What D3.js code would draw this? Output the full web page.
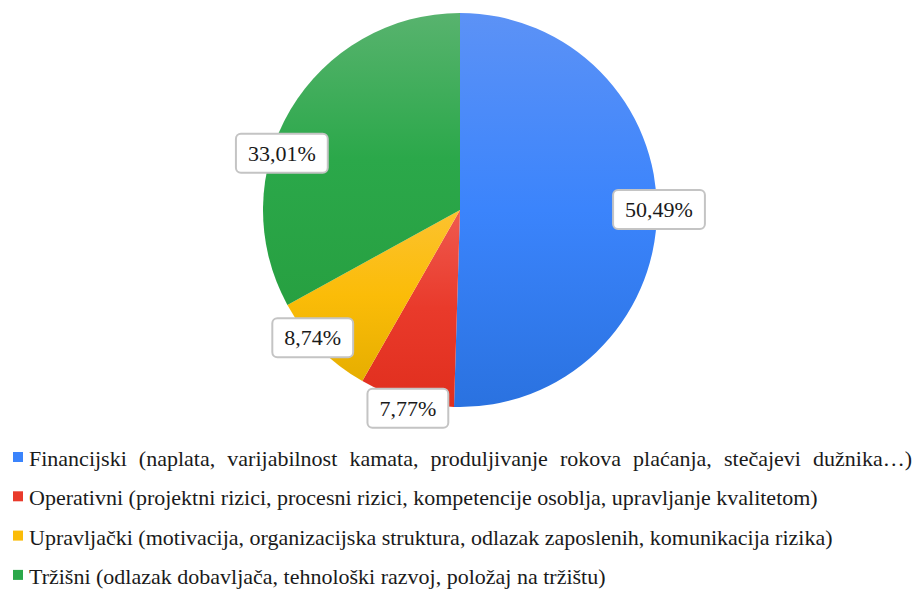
<!DOCTYPE html>
<html>
<head>
<meta charset="utf-8">
<script src="https://cdn.jsdelivr.net/npm/d3@7"></script>
<style>
  body { margin: 0; }
  #pie_chart text { font-family: "Liberation Serif", "Tinos", "Times New Roman", serif !important; }
</style>
</head>
<body>
<svg id="pie_chart" width="916" height="594" font-family="Liberation Serif"></svg>
<script>
const categories = [
    "Financijski (naplata, varijabilnost kamata, produljivanje rokova plaćanja, stečajevi dužnika…)",
    "Operativni (projektni rizici, procesni rizici, kompetencije osoblja, upravljanje kvalitetom)",
    "Upravljački (motivacija, organizacijska struktura, odlazak zaposlenih, komunikacija rizika)",
    "Tržišni (odlazak dobavljača, tehnološki razvoj, položaj na tržištu)"
];
const shares = [50.49, 7.77, 8.74, 33.01];
const shareLabels = ["50,49%", "7,77%", "8,74%", "33,01%"];
const colorsTop = ["#5c92f6", "#ef5a4f", "#fcc22f", "#58b36e"];
const colorsMid = ["#3b84fc", "#e93a2b", "#fbbc08", "#2ba84a"];
const colorsBottom = ["#2a72e0", "#e02e1d", "#e6ae00", "#27a041"];
// best-fit placement of the value boxes: angle nudge (deg) and distance from centre
const labelShift = [-1, -1, 3.6, -12.9];
const labelDist = [199, 205, 195, 187];

const cx = 460, cy = 210, radius = 197;
const serif = '"Liberation Serif", "Tinos", "Times New Roman", serif';

const svg = d3.select("#pie_chart");

const defs = svg.append("defs");
shares.forEach((d, i) => {
    const g = defs.append("linearGradient")
        .attr("id", "grad" + i)
        .attr("x1", 0).attr("y1", 0).attr("x2", 0).attr("y2", 1);
    g.append("stop").attr("offset", "0%").attr("stop-color", colorsTop[i]);
    g.append("stop").attr("offset", "50%").attr("stop-color", colorsMid[i]);
    g.append("stop").attr("offset", "100%").attr("stop-color", colorsBottom[i]);
});

const pie = d3.pie().sort(null).value(d => d);
const arcs = pie(shares);
const arc = d3.arc().innerRadius(0).outerRadius(radius);

const g = svg.append("g").attr("transform", `translate(${cx},${cy})`);

g.selectAll("path.slice")
    .data(arcs)
    .join("path")
    .attr("class", "slice")
    .attr("fill", (d, i) => `url(#grad${i})`)
    .attr("d", arc);

// value boxes
const labels = g.selectAll("g.lbl")
    .data(arcs)
    .join("g")
    .attr("class", "lbl")
    .attr("transform", (d, i) => {
        const a = (d.startAngle + d.endAngle) / 2 + labelShift[i] * Math.PI / 180;
        return `translate(${labelDist[i] * Math.sin(a)},${-labelDist[i] * Math.cos(a)})`;
    });

labels.append("rect")
    .attr("x", -46).attr("y", -19.5)
    .attr("width", 92).attr("height", 39)
    .attr("rx", 5)
    .attr("fill", "#fff")
    .attr("stroke", "#c4c4c4")
    .attr("stroke-width", 2);

labels.append("text")
    .attr("text-anchor", "middle")
    .attr("dy", "0.34em")
    .attr("font-size", 22)
    .attr("font-family", "Liberation Serif")
    .style("font-family", serif, "important")
    .attr("fill", "#1a1a1a")
    .text((d, i) => shareLabels[i]);

// legend
const legend = svg.append("g").attr("transform", "translate(13,452)");
const rowStep = 39.3;
const rows = legend.selectAll("g.row")
    .data(categories)
    .join("g")
    .attr("class", "row")
    .attr("transform", (d, i) => `translate(0,${i * rowStep})`);

rows.append("rect")
    .attr("width", 10).attr("height", 10)
    .attr("fill", (d, i) => colorsMid[i]);

rows.append("text")
    .attr("x", 16)
    .attr("y", 14)
    .attr("font-size", 22)
    .attr("font-family", "Liberation Serif")
    .style("font-family", serif, "important")
    .attr("fill", "#1a1a1a")
    .text(d => d);

// resize the boxes to their text, and justify the first legend entry to the full width
labels.each(function() {
    const w = d3.select(this).select("text").node().getComputedTextLength();
    d3.select(this).select("rect").attr("x", -w / 2 - 12).attr("width", w + 24);
});
const first = rows.filter((d, i) => i === 0).select("text");
const natural = first.node().getComputedTextLength();
const spaces = categories[0].split(" ").length - 1;
const target = 912 - 13 - 16;
if (natural < target) first.attr("word-spacing", (target - natural) / spaces);
</script>
</body>
</html>
